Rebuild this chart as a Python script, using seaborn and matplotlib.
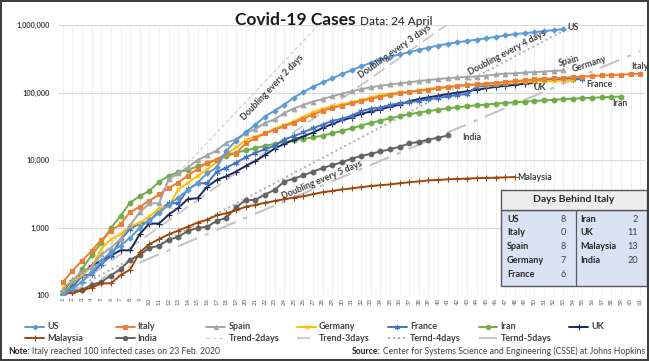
import math
import numpy as np
import pandas as pd
import matplotlib
matplotlib.use("Agg")
import matplotlib.pyplot as plt
import seaborn as sns
from matplotlib.lines import Line2D
from matplotlib.patches import Rectangle
from matplotlib.ticker import FixedLocator, FixedFormatter, NullLocator

# ---------------- data (cases since each country passed 100) ----------------
us = [100, 124, 158, 221, 319, 435, 541, 704, 994, 1301, 1630, 2183, 2770, 3613, 4596, 6344, 7753,
      13737, 19273, 25600, 33276, 43847, 53740, 65778, 83836, 101657, 121478, 140886, 161807, 188172,
      213372, 243762, 275586, 308853, 337072, 366667, 396223, 429052, 461437, 496535, 526396, 555313,
      580619, 607670, 636350, 667592, 699706, 732197, 759086, 784326, 811865, 840351, 869170]
italy = [155, 229, 322, 453, 655, 888, 1128, 1694, 2036, 2502, 3089, 3858, 4636, 5883, 7375, 9172,
         10149, 12462, 12462, 17660, 21157, 24747, 27980, 31506, 35713, 41035, 47021, 53578, 59138,
         63927, 69176, 74386, 80589, 86498, 92472, 97689, 101739, 105792, 110574, 115242, 119827,
         124632, 128948, 132547, 135586, 139422, 143626, 147577, 152271, 156363, 159516, 162488,
         165155, 168941, 172434, 175925, 178972, 181228, 183957, 187327, 189973]
spain = [120, 165, 222, 259, 400, 500, 673, 1073, 1695, 2277, 2277, 5232, 6391, 7798, 9942, 11748,
         13910, 17963, 20410, 25374, 28768, 35136, 39885, 49515, 57786, 65719, 73235, 80110, 87956,
         95923, 104118, 112065, 119199, 126168, 131646, 136675, 141942, 148220, 153222, 158273,
         163027, 166831, 170099, 172541, 177644, 184948, 190839, 191726, 198674, 200210, 204178,
         208389, 213024]
germany = [130, 159, 196, 262, 482, 670, 799, 1040, 1176, 1457, 1908, 2078, 3675, 4585, 5795, 7272,
           9257, 12327, 15320, 19848, 22213, 24873, 29056, 32986, 37323, 43938, 50871, 57695, 62095,
           66885, 71808, 77872, 84794, 91159, 96092, 100123, 103374, 107663, 113296, 118181, 122171,
           124908, 127854, 130072, 131359, 134753, 137698, 141397, 143342, 145184, 147065, 148291,
           150648, 153129]
france = [100, 130, 191, 204, 288, 380, 656, 959, 1136, 1219, 1794, 2293, 2293, 3681, 4496, 4532,
          6683, 7715, 9124, 10970, 12758, 14463, 16243, 20123, 22622, 25600, 29551, 33402, 38105,
          40708, 45170, 52827, 57749, 59929, 65202, 69500, 71412, 75343, 79163, 83057, 87366, 91738,
          94863, 121712, 125394, 131361, 134582, 147091, 149130, 149149, 154097, 156480, 159297,
          157125, 158303]
iran = [110, 139, 245, 388, 593, 978, 1501, 2336, 2922, 3513, 4747, 5823, 6566, 7161, 8042, 9000,
        10075, 11364, 12729, 13938, 14991, 16169, 17361, 18407, 19644, 20610, 21638, 23049, 24811,
        27017, 29406, 32332, 35408, 38309, 41495, 44605, 47593, 50468, 53183, 55743, 58226, 60500,
        62589, 64586, 66220, 68192, 70029, 71686, 73303, 74877, 76389, 77995, 79494, 80868, 82211,
        83505, 84802, 85996, 87026]
uk = [116, 164, 207, 274, 322, 384, 459, 459, 802, 1144, 1145, 1551, 1960, 2642, 2716, 4014, 5067,
      5745, 6726, 8164, 9640, 11812, 14745, 17312, 19780, 22453, 25481, 29865, 34173, 38689, 42477,
      48436, 52279, 55949, 61474, 65872, 74605, 79874, 85206, 89570, 94845, 99483, 104145, 109769,
      115314, 121172, 125856, 130172, 134638, 139246]
malaysia = [105, 107, 117, 129, 149, 149, 197, 238, 428, 566, 673, 790, 900, 1030, 1183, 1306, 1518,
            1624, 1796, 2031, 2161, 2320, 2470, 2626, 2766, 2908, 3116, 3333, 3483, 3662, 3793,
            3963, 4119, 4228, 4346, 4530, 4683, 4817, 4987, 5072, 5182, 5251, 5305, 5389, 5425,
            5482, 5532, 5603]
india = [102, 113, 119, 142, 156, 194, 244, 330, 396, 499, 536, 657, 727, 887, 987, 1024, 1251, 1397,
         1998, 2543, 2567, 3082, 3588, 4778, 5311, 5916, 6725, 7598, 8446, 9205, 10453, 11487,
         12322, 13430, 14352, 15722, 17615, 18539, 20080, 21370, 23077]

countries = ["US", "Italy", "Spain", "Germany", "France", "Iran", "UK", "Malaysia", "India"]
series = [us, italy, spain, germany, france, iran, uk, malaysia, india]

doubling_periods = [2, 3, 4, 5]
trend_names = ["Trend-2days", "Trend-3days", "Ternd-4days", "Ternd-5days"]
trend_texts = ["Doubling every 2 days", "Doubling every 3 days",
               "Doubling every 4 days", "Doubling every 5 days"]

days_axis = list(range(1, 62))
y_ticks = [100, 1000, 10000, 100000, 1000000]
y_ticklabels = ["100", "1,000", "10,000", "100,000", "1,000,000"]

table_left_names = ["US", "Italy", "Spain", "Germany", "France"]
table_left_vals = [8, 0, 8, 7, 6]
table_right_names = ["Iran", "UK", "Malaysia", "India"]
table_right_vals = [2, 11, 13, 20]

# ---------------- styles ----------------
colors = {"US": "#5B9BD5", "Italy": "#ED7D31", "Spain": "#A5A5A5", "Germany": "#FFC000",
          "France": "#4472C4", "Iran": "#70AD47", "UK": "#1B2A5C", "Malaysia": "#9E480E",
          "India": "#636363"}
markers = {"US": "D", "Italy": "s", "Spain": "^", "Germany": "x", "France": (6, 2, 0),
           "Iran": "o", "UK": "+", "Malaysia": "+", "India": "o"}
msizes = {"US": 2.6, "Italy": 3.0, "Spain": 3.3, "Germany": 3.3, "France": 4.2,
          "Iran": 3.4, "UK": 4.2, "Malaysia": 4.2, "India": 3.4}
trend_styles = [dict(color="#D0D0D0", lw=0.9, ls=(0, (3, 2))),
                dict(color="#C4C4C4", lw=1.2, ls=(0, (8, 4))),
                dict(color="#AEAEAE", lw=1.4, ls=(0, (1, 1.6))),
                dict(color="#C4C4C4", lw=1.5, ls=(0, (10, 4, 2, 4)))]
label_offsets = {"US": (4, 2, 0), "Spain": (-4, 7, 14), "Germany": (-1, 10, 18),
                 "Italy": (-9, 7, 0), "France": (4, -5, 0), "UK": (-1, -5, 0),
                 "Iran": (-9, -7, 0), "India": (15, -2, 0), "Malaysia": (2, -1, 0)}
trend_label_pos = [(22.8, 116700), (35.5, 400000), (47.2, 385000), (27.96, 5060)]

W, H = 650, 361
TXT = "#404040"

sns.set_theme(style="white")
plt.rcParams["font.family"] = ["Lato", "DejaVu Sans"]

fig = plt.figure(figsize=(W / 100, H / 100), dpi=100)
fig.patch.set_facecolor("white")


def fx(px):
    return px / W


def fy(py):
    return 1 - py / H


ax = fig.add_axes([fx(58), fy(295), fx(645) - fx(58), fy(25) - fy(295)])
ax.set_yscale("log")
ax.set_xlim(0.5, 61.5)
ax.set_ylim(100, 1000000)
for s in ax.spines.values():
    s.set_visible(False)

ax.yaxis.set_major_locator(FixedLocator(y_ticks))
ax.yaxis.set_major_formatter(FixedFormatter(y_ticklabels))
ax.yaxis.set_minor_locator(NullLocator())
ax.set_xticks(days_axis)
ax.set_xticklabels([str(d) for d in days_axis], rotation=90)
ax.tick_params(axis="x", labelsize=4.3, colors="#595959", length=0, pad=2)
ax.tick_params(axis="y", labelsize=5.3, colors=TXT, length=0, pad=6)
for lab in ax.get_yticklabels():
    lab.set_fontweight("bold")
ax.grid(axis="y", which="major", color="#D9D9D9", lw=0.8)
ax.grid(axis="x", which="major", color="#EDEDED", lw=0.6)

# trend lines
tdays = np.array(days_axis, dtype=float)
for p, st, nm in zip(doubling_periods, trend_styles, trend_names):
    tdf = pd.DataFrame({"day": tdays, "cases": 100 * 2 ** ((tdays - 1) / p)})
    sns.lineplot(data=tdf, x="day", y="cases", ax=ax, color=st["color"], lw=st["lw"],
                 linestyle=st["ls"], zorder=2)

# country series
long = pd.concat([pd.DataFrame({"country": c, "day": np.arange(1, len(v) + 1), "cases": v})
                  for c, v in zip(countries, series)], ignore_index=True)
draw_order = ["India", "Malaysia", "Iran", "UK", "France", "Germany", "Italy", "Spain", "US"]
for c in draw_order:
    d = long[long.country == c]
    sns.lineplot(data=d, x="day", y="cases", ax=ax, color=colors[c], lw=1.4,
                 marker=markers[c], markersize=msizes[c], markeredgewidth=0.8,
                 markeredgecolor=colors[c], zorder=3)
ax.set_xlabel("")
ax.set_ylabel("")

# end-of-line labels
for c in countries:
    d = long[long.country == c]
    x0, y0 = d.day.iloc[-1], d.cases.iloc[-1]
    dx, dy, rot = label_offsets[c]
    ax.annotate(c, (x0, y0), xytext=(dx, dy), textcoords="offset pixels", ha="left",
                va="center", rotation=rot, rotation_mode="anchor", fontsize=6.3,
                fontweight="bold", color=TXT, annotation_clip=False, zorder=5)

# trend labels, rotated along their line
for p, txt, (tx, ty) in zip(doubling_periods, trend_texts, trend_label_pos):
    a = ax.transData.transform((10, 100 * 2 ** (9 / p)))
    b = ax.transData.transform((20, 100 * 2 ** (19 / p)))
    ang = math.degrees(math.atan2(b[1] - a[1], b[0] - a[0]))
    ax.text(tx, ty, txt, rotation=ang, rotation_mode="anchor", ha="center", va="center",
            fontsize=6.3, fontweight="bold", color=TXT, zorder=5)

# ---------------- table ----------------
tl, tr, tt, th, tb = 501, 647, 190, 210, 286
fig.add_artist(Rectangle((fx(tl), fy(tb)), fx(tr) - fx(tl), fy(th) - fy(tb),
                         transform=fig.transFigure, facecolor="#DAE3F3", edgecolor="#595959", lw=1.0))
fig.add_artist(Rectangle((fx(tl), fy(th)), fx(tr) - fx(tl), fy(tt) - fy(th),
                         transform=fig.transFigure, facecolor="#EDEDED", edgecolor="#595959", lw=1.0))
fig.add_artist(Line2D([fx(576), fx(576)], [fy(th), fy(tb)], transform=fig.transFigure,
                      color="#595959", lw=0.9))
fig.text(fx((tl + tr) / 2), fy(200), "Days Behind Italy", ha="center", va="center",
         fontsize=7.5, fontweight="bold", color="#262626")
for i, (n, v) in enumerate(zip(table_left_names, table_left_vals)):
    yy = fy(219 + 13.8 * i)
    fig.text(fx(507), yy, n, ha="left", va="center", fontsize=6.6, fontweight="bold", color="#262626")
    fig.text(fx(566), yy, str(v), ha="right", va="center", fontsize=6.6, color="#404040")
for i, (n, v) in enumerate(zip(table_right_names, table_right_vals)):
    yy = fy(219 + 13.8 * i)
    fig.text(fx(580), yy, n, ha="left", va="center", fontsize=6.6, fontweight="bold", color="#262626")
    fig.text(fx(638), yy, str(v), ha="right", va="center", fontsize=6.6, color="#404040")

# ---------------- legend (Excel style grid) ----------------
leg_rows = [["US", "Italy", "Spain", "Germany", "France", "Iran", "UK"],
            ["Malaysia", "India"] + trend_names]
pitch = 90.7
for r, row in enumerate(leg_rows):
    yy = fy(326.5 + 11.8 * r)
    for j, name in enumerate(row):
        x0 = 25 + pitch * j
        if name in colors:
            fig.add_artist(Line2D([fx(x0), fx(x0 + 19)], [yy, yy], transform=fig.transFigure,
                                  color=colors[name], lw=1.4))
            fig.add_artist(Line2D([fx(x0 + 9.5)], [yy], transform=fig.transFigure, marker=markers[name],
                                  markersize=msizes[name] * 0.9, color=colors[name],
                                  markeredgecolor=colors[name], markeredgewidth=0.8))
        else:
            st = trend_styles[trend_names.index(name)]
            fig.add_artist(Line2D([fx(x0), fx(x0 + 19)], [yy, yy], transform=fig.transFigure,
                                  color=st["color"], lw=st["lw"], ls=st["ls"]))
        fig.text(fx(x0 + 22), yy, name, ha="left", va="center", fontsize=6.5,
                 fontweight="bold", color=TXT)

# ---------------- title & footer ----------------
renderer = fig.canvas.get_renderer()
t1 = fig.text(fx(235), fy(25), "Covid-19 Cases", ha="left", va="baseline", fontsize=12.5,
              fontweight="bold", color="#1A1A1A")
bb = t1.get_window_extent(renderer)
fig.text(bb.x1 / W + fx(5), fy(25), "Data: 24 April", ha="left", va="baseline", fontsize=8.5,
         color="#1A1A1A")

n1 = fig.text(fx(8), fy(351), "Note:", ha="left", va="center", fontsize=6.2, fontweight="bold", color="#262626")
bb = n1.get_window_extent(renderer)
fig.text(bb.x1 / W + fx(2), fy(351), "Italy reached 100 infected cases on 23 Feb. 2020", ha="left",
         va="center", fontsize=6.2, color="#404040")
s2 = fig.text(fx(645), fy(351), "Center for Systems Science and Engineering (CSSE) at Johns Hopkins",
              ha="right", va="center", fontsize=6.2, color="#404040")
bb = s2.get_window_extent(renderer)
fig.text(bb.x0 / W - fx(2), fy(351), "Source:", ha="right", va="center", fontsize=6.2,
         fontweight="bold", color="#262626")

fig.add_artist(Rectangle((fx(1), fy(359.5)), fx(648) - fx(1), fy(1) - fy(359.5),
                         transform=fig.transFigure, fill=False, edgecolor="#3A3A3A", lw=1.4))

fig.savefig("out.png", dpi=100, facecolor="white")
